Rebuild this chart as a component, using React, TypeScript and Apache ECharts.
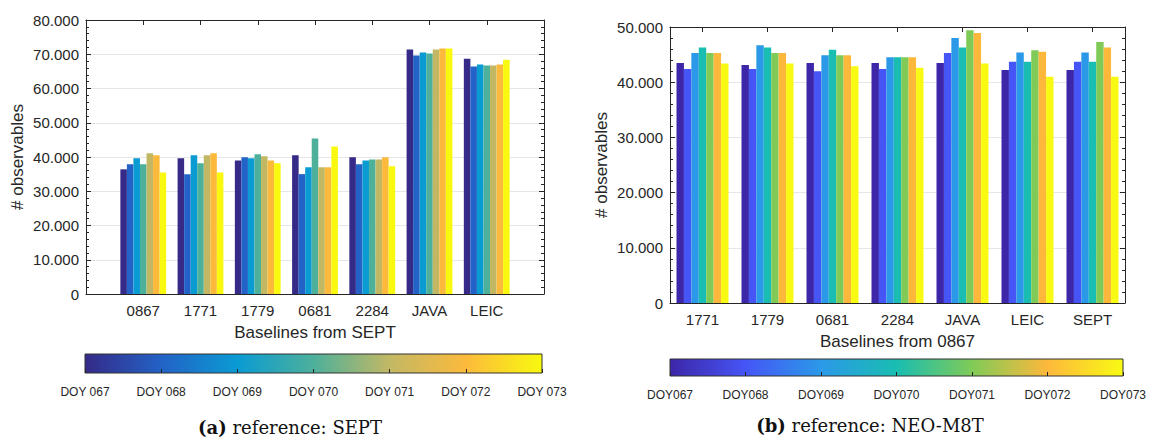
import React, { useEffect, useRef } from 'react';
import * as echarts from 'echarts';

// ---------- data ----------
const leftCategories = ['0867', '1771', '1779', '0681', '2284', 'JAVA', 'LEIC'];
const rightCategories = ['1771', '1779', '0681', '2284', 'JAVA', 'LEIC', 'SEPT'];

const leftDoyLabels = ['DOY 067', 'DOY 068', 'DOY 069', 'DOY 070', 'DOY 071', 'DOY 072', 'DOY 073'];
const rightDoyLabels = ['DOY067', 'DOY068', 'DOY069', 'DOY070', 'DOY071', 'DOY072', 'DOY073'];

// reference SEPT (left)
const sept067 = [36400, 39600, 39000, 40500, 39900, 71400, 68700];
const sept068 = [37900, 35000, 39900, 35000, 37900, 69600, 66400];
const sept069 = [39600, 40500, 39600, 37000, 39000, 70500, 67000];
const sept070 = [37900, 38200, 40800, 45400, 39300, 70200, 66700];
const sept071 = [41100, 40500, 40200, 37000, 39300, 71400, 66700];
const sept072 = [40500, 41100, 39000, 37000, 39900, 71700, 67000];
const sept073 = [35500, 35500, 38200, 43100, 37300, 71700, 68400];

// reference NEO-M8T (right)
const neo067 = [43500, 43100, 43500, 43500, 43500, 42200, 42200];
const neo068 = [42400, 42400, 42000, 42400, 45300, 43700, 43700];
const neo069 = [45300, 46700, 44900, 44500, 48000, 45400, 45400];
const neo070 = [46300, 46300, 45900, 44500, 46300, 43700, 43700];
const neo071 = [45300, 45300, 44900, 44500, 49400, 45800, 47300];
const neo072 = [45300, 45300, 44900, 44500, 48900, 45500, 46300];
const neo073 = [43400, 43400, 42900, 42600, 43400, 41000, 41000];

const leftYMax = 80000;
const rightYMax = 50000;
const yInterval = 10000;

// ---------- styles ----------
const leftColors = ['#352A87', '#2362C6', '#0A9BD3', '#4DB09B', '#C2B864', '#FCBA3D', '#F8F90E'];
const rightColors = ['#3D26A8', '#4555F6', '#2B99E8', '#19BDB1', '#80CB58', '#FDB83C', '#F9FA14'];

const SANS = '"Liberation Sans", Arial, Helvetica, sans-serif';
const SERIF = '"DejaVu Serif", "Liberation Serif", serif';
const INK = '#262626';
const GRIDLINE = '#e6e6e6';

const L = { left: 86, top: 20, width: 458, height: 274 };
const R = { left: 670, top: 27, width: 455, height: 276 };
const LC = { left: 85, top: 354, width: 457, height: 19 };
const RC = { left: 670, top: 359, width: 453, height: 17 };

const fmtThousands = (v: number) => String(Math.round(v)).replace(/\B(?=(\d{3})+(?!\d))/g, '.');

export default function App() {
  const ref = useRef<HTMLDivElement>(null);

  useEffect(() => {
    if (!ref.current) return;
    const chart = echarts.init(ref.current, undefined, { renderer: 'svg' });

    const leftSeriesData = [sept067, sept068, sept069, sept070, sept071, sept072, sept073];
    const rightSeriesData = [neo067, neo068, neo069, neo070, neo071, neo072, neo073];
    const leftPadded = ['', ...leftCategories, ''];

    const mainYAxis = (gridIndex: number, max: number, name: string) => ({
      type: 'value',
      gridIndex,
      min: 0,
      max,
      interval: yInterval,
      name,
      nameLocation: 'middle',
      nameGap: 60,
      nameTextStyle: { fontFamily: SANS, fontSize: 17, color: INK },
      axisLine: { show: true, lineStyle: { color: INK, width: 1 } },
      axisTick: { show: true, inside: true, length: 5, lineStyle: { color: INK } },
      minorTick: { show: true, splitNumber: 5, length: 3, lineStyle: { color: INK } },
      splitLine: { show: true, lineStyle: { color: GRIDLINE, width: 1 } },
      axisLabel: {
        fontFamily: SANS,
        fontSize: 15,
        color: INK,
        margin: 7,
        formatter: (v: number) => fmtThousands(v),
      },
    });
    const boxYAxis = (gridIndex: number, max: number) => ({
      type: 'value',
      gridIndex,
      position: 'right',
      min: 0,
      max,
      interval: yInterval,
      axisLine: { show: true, lineStyle: { color: INK, width: 1 } },
      axisTick: { show: true, inside: true, length: 5, lineStyle: { color: INK } },
      minorTick: { show: true, splitNumber: 5, length: 3, lineStyle: { color: INK } },
      splitLine: { show: false },
      axisLabel: { show: false },
    });
    const hiddenY = (gridIndex: number) => ({
      type: 'value',
      gridIndex,
      show: false,
      min: 0,
      max: 1,
    });

    const catAxis = (
      gridIndex: number,
      data: string[],
      position: 'top' | 'bottom',
      boundaryGap: boolean,
      labels: boolean,
      name?: string
    ) => ({
      type: 'category',
      gridIndex,
      data,
      position,
      boundaryGap,
      name: name || '',
      nameLocation: 'middle',
      nameGap: 30,
      nameTextStyle: { fontFamily: SANS, fontSize: 17, color: INK },
      axisLine: { show: true, onZero: false, lineStyle: { color: INK, width: 1 } },
      axisTick: { show: true, inside: true, length: 5, alignWithLabel: true, lineStyle: { color: INK } },
      axisLabel: { show: labels, fontFamily: SANS, fontSize: 15, color: INK, margin: 9, interval: 0 },
      splitLine: { show: false },
    });

    const colorbarAxis = (gridIndex: number, data: string[]) => ({
      type: 'category',
      gridIndex,
      data,
      position: 'bottom',
      boundaryGap: false,
      z: 10,
      axisLine: { show: false },
      axisTick: { show: true, inside: true, length: 4, lineStyle: { color: INK } },
      axisLabel: { show: true, fontFamily: SANS, fontSize: 12, color: INK, margin: 13, interval: 0 },
      splitLine: { show: false },
    });

    const gradient = (colors: string[]) =>
      new echarts.graphic.LinearGradient(
        0,
        0,
        1,
        0,
        colors.map((c, i) => ({ offset: i / (colors.length - 1), color: c }))
      );

    const series: any[] = [];
    leftSeriesData.forEach((arr, i) => {
      series.push({
        type: 'bar',
        name: leftDoyLabels[i],
        xAxisIndex: 0,
        yAxisIndex: 0,
        data: ['-', ...arr, '-'],
        itemStyle: { color: leftColors[i] },
        barGap: '0%',
        barCategoryGap: '20%',
        silent: true,
      });
    });
    rightSeriesData.forEach((arr, i) => {
      series.push({
        type: 'bar',
        name: rightDoyLabels[i],
        xAxisIndex: 2,
        yAxisIndex: 2,
        data: arr,
        itemStyle: { color: rightColors[i] },
        barGap: '0%',
        barCategoryGap: '20%',
        silent: true,
      });
    });

    chart.setOption({
      animation: false,
      backgroundColor: '#ffffff',
      grid: [
        { ...L, containLabel: false },
        { ...R, containLabel: false },
        { ...LC, containLabel: false },
        { ...RC, containLabel: false },
      ],
      xAxis: [
        catAxis(0, leftPadded, 'bottom', false, true, 'Baselines from SEPT'),
        catAxis(0, leftPadded, 'top', false, false),
        catAxis(1, rightCategories, 'bottom', true, true, 'Baselines from 0867'),
        catAxis(1, rightCategories, 'top', true, false),
        colorbarAxis(2, leftDoyLabels),
        colorbarAxis(3, rightDoyLabels),
      ],
      yAxis: [
        mainYAxis(0, leftYMax, '# observables'),
        boxYAxis(0, leftYMax),
        mainYAxis(1, rightYMax, '# observables'),
        boxYAxis(1, rightYMax),
        hiddenY(2),
        hiddenY(3),
      ],
      series,
      graphic: [
        {
          type: 'rect',
          z: 1,
          shape: { x: LC.left, y: LC.top, width: LC.width, height: LC.height },
          style: { fill: gradient(leftColors), stroke: '#333333', lineWidth: 1 },
        },
        {
          type: 'rect',
          z: 1,
          shape: { x: RC.left, y: RC.top, width: RC.width, height: RC.height },
          style: { fill: gradient(rightColors), stroke: '#333333', lineWidth: 1 },
        },
        {
          type: 'text',
          x: 290,
          y: 427,
          style: {
            text: '{b|(a)} reference: SEPT',
            align: 'center',
            verticalAlign: 'middle',
            fontFamily: SERIF,
            fontSize: 18,
            fill: '#111111',
            rich: { b: { fontFamily: SERIF, fontSize: 18, fontWeight: 'bold', fill: '#111111' } },
          },
        },
        {
          type: 'text',
          x: 870,
          y: 425,
          style: {
            text: '{b|(b)} reference: NEO-M8T',
            align: 'center',
            verticalAlign: 'middle',
            fontFamily: SERIF,
            fontSize: 18,
            fill: '#111111',
            rich: { b: { fontFamily: SERIF, fontSize: 18, fontWeight: 'bold', fill: '#111111' } },
          },
        },
      ],
    });

    return () => chart.dispose();
  }, []);

  return (
    <div
      ref={ref}
      style={{ position: 'fixed', left: 0, top: 0, width: 1151, height: 439, background: '#fff' }}
    />
  );
}
